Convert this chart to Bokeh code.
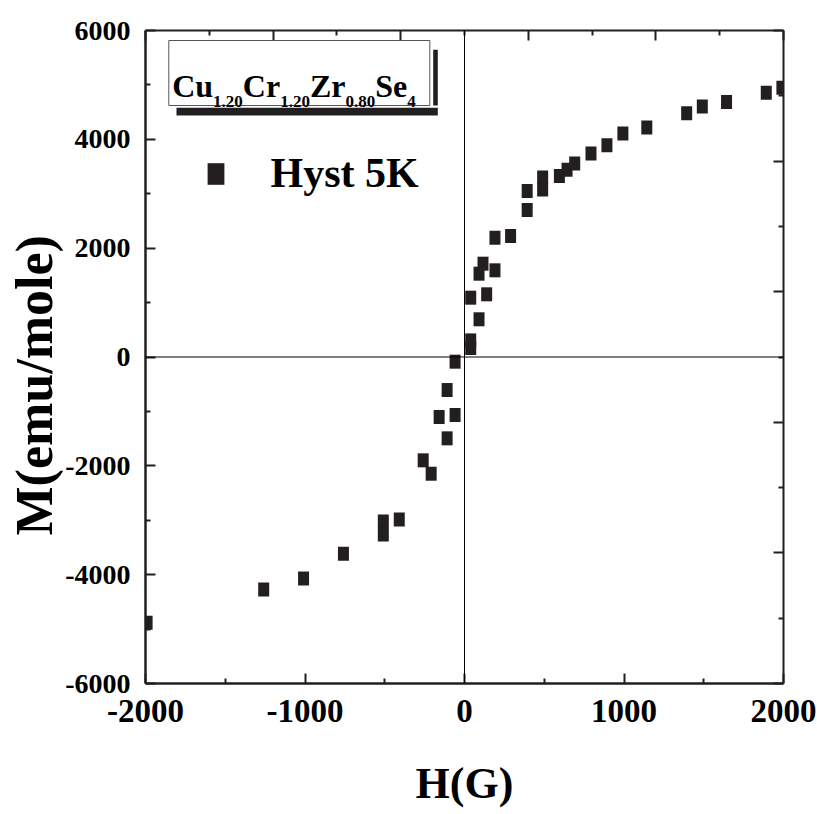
from bokeh.plotting import figure
from bokeh.models import (LinearAxis, FixedTicker, Span, BoxAnnotation, Label, Title,
                          Range1d, Legend, LegendItem, ColumnDataSource)
from bokeh.embed import file_html
from bokeh.resources import INLINE

# ---- data ----
H_field = [1990, 1892, 1643, 1491, 1393, 1143, 993, 893, 793, 691, 643, 595,
           490, 490, 393, 393, 289, 191, 191, 116, 91, 139, 39, 91, 39, 39,
           -59, -109, -159, -59, -109, -259, -209, -409, -509, -509, -759,
           -1009, -1259, -1990]
M_moment = [4950, 4858, 4688, 4602, 4478, 4216, 4105, 3891, 3738, 3554, 3443, 3327,
            3300, 3080, 3050, 2700, 2224, 2193, 1593, 1715, 1531, 1152, 1090, 693, 305, 165,
            -86, -607, -1103, -1066, -1495, -1899, -2145, -2984, -3024, -3263, -3615,
            -4069, -4271, -4884]

x_major = [-2000, -1000, 0, 1000, 2000]
x_minor = [-1500, -500, 500, 1500]
x_labels = ["-2000", "-1000", "0", "1000", "2000"]
y_major = [-6000, -4000, -2000, 0, 2000, 4000, 6000]
y_minor = [-5000, -3000, -1000, 1000, 3000, 5000]
y_labels = ["-6000", "-4000", "-2000", "0", "2000", "4000", "6000"]
top_major = [-2000, -1200, -400, 400, 1200, 2000]
top_minor = [-1600, -800, 0, 800, 1600]
right_major = [-6000, -3600, -1200, 1200, 3600, 6000]
right_minor = [-4800, -2400, 0, 2400, 4800]

x_title = "H(G)"
y_title = "M(emu/mole)"
series_label = "Hyst 5K"
formula_parts = [("Cu", "1.20"), ("Cr", "1.20"), ("Zr", "0.80"), ("Se", "4")]

FONT = "Liberation Serif"
INK = "#231f20"

X0, X1 = -2000, 2000
Y0, Y1 = -6000, 6000
W, HGT = 817, 814
# frame position in window pixels (for placing annotations)
FL, FR, FT, FB = 145, 783, 30, 683


def hx(px):
    return X0 + (px - FL) / (FR - FL) * (X1 - X0)


def vy(py):
    return Y0 + (FB - py) / (FB - FT) * (Y1 - Y0)


p = figure(width=W, height=HGT, x_range=Range1d(X0, X1), y_range=Range1d(Y0, Y1),
           output_backend="svg", toolbar_location=None,
           min_border_left=FL, min_border_right=W - FR, min_border_top=FT,
           min_border_bottom=HGT - FB)
p.grid.visible = False
p.outline_line_color = None
p.background_fill_color = "white"
p.border_fill_color = "white"

xa = p.xaxis[0]
xa.ticker = FixedTicker(ticks=x_major, minor_ticks=x_minor)
xa.major_label_overrides = dict(zip(x_major, x_labels))
ya = p.yaxis[0]
ya.ticker = FixedTicker(ticks=y_major, minor_ticks=y_minor)
ya.major_label_overrides = dict(zip(y_major, y_labels))

for ax in (xa, ya):
    ax.major_tick_in = 10
    ax.major_tick_out = 0
    ax.minor_tick_in = 5
    ax.minor_tick_out = 0
    ax.axis_line_width = 2.5
    ax.major_tick_line_width = 2
    ax.minor_tick_line_width = 2
    ax.axis_line_color = INK
    ax.major_tick_line_color = INK
    ax.minor_tick_line_color = INK
    ax.major_label_text_font = FONT
    ax.major_label_text_font_style = "bold"
    ax.major_label_text_color = "black"
    ax.axis_label_text_font = FONT
    ax.axis_label_text_font_style = "bold"
    ax.axis_label_text_color = "black"

xa.major_label_text_font_size = "33px"
xa.major_label_standoff = 16
xa.axis_label = x_title
xa.axis_label_text_font_size = "44px"
xa.axis_label_standoff = 34

ya.major_label_text_font_size = "28px"
ya.major_label_standoff = 15

top_axis = LinearAxis(ticker=FixedTicker(ticks=top_major, minor_ticks=top_minor))
top_axis.major_label_overrides = {t: "" for t in top_major}
right_axis = LinearAxis(ticker=FixedTicker(ticks=right_major, minor_ticks=right_minor))
right_axis.major_label_overrides = {t: "" for t in right_major}
for ax in (top_axis, right_axis):
    ax.major_tick_in = 10
    ax.major_tick_out = 0
    ax.minor_tick_in = 5
    ax.minor_tick_out = 0
    ax.axis_line_width = 2
    ax.major_tick_line_width = 2
    ax.minor_tick_line_width = 2
    ax.axis_line_color = INK
    ax.major_tick_line_color = INK
    ax.minor_tick_line_color = INK
    ax.major_label_standoff = 0
p.add_layout(top_axis, "above")
p.add_layout(right_axis, "right")

# y axis title in the left border, placed off-centre as in the reference
p.add_layout(Title(text=y_title, align="left", offset=148, vertical_align="bottom",
                   standoff=0, text_font=FONT, text_font_style="bold",
                   text_font_size="52px", text_color="black"), "left")

# zero lines
p.add_layout(Span(location=0, dimension="height", line_color="black", line_width=1))
p.add_layout(Span(location=0, dimension="width", line_color="black", line_width=1))

src = ColumnDataSource(dict(H=H_field, M=M_moment))
r = p.rect(x="H", y="M", width=11, height=14, width_units="screen",
           height_units="screen", fill_color=INK, line_color=None, source=src)

# formula box with shadow
p.add_layout(BoxAnnotation(left=hx(176), right=hx(437.3), top=vy(107.3), bottom=vy(115),
                           fill_color=INK, fill_alpha=1, line_color=None))
p.add_layout(BoxAnnotation(left=hx(432.7), right=hx(437.3), top=vy(49.3), bottom=vy(105),
                           fill_color=INK, fill_alpha=1, line_color=None))
p.add_layout(BoxAnnotation(left=hx(168.3), right=hx(429.3), top=vy(40), bottom=vy(105),
                           fill_color="white", fill_alpha=1, line_color="#555555",
                           line_width=1, line_alpha=1))

MAIN_SIZE, SUB_SIZE = 32, 17
widths = {"C": 0.722, "u": 0.556, "r": 0.444, "Z": 0.667, "S": 0.556, "e": 0.444,
          "0": 0.5, "1": 0.5, "2": 0.5, "4": 0.5, "8": 0.5, ".": 0.25}
cur = 171.7
for main, sub in formula_parts:
    p.add_layout(Label(x=hx(cur), y=vy(85), text=main, text_font=FONT,
                       text_font_style="bold", text_font_size=f"{MAIN_SIZE}px",
                       text_color="black", text_baseline="alphabetic"))
    cur += sum(widths[c] for c in main) * MAIN_SIZE
    p.add_layout(Label(x=hx(cur), y=vy(101), text=sub, text_font=FONT,
                       text_font_style="bold", text_font_size=f"{SUB_SIZE}px",
                       text_color="black", text_baseline="alphabetic"))
    cur += sum(widths[c] for c in sub) * SUB_SIZE

legend = Legend(items=[LegendItem(label=series_label, renderers=[r])],
                location=(59.5, 486), glyph_width=21, glyph_height=27,
                label_text_font=FONT, label_text_font_style="bold",
                label_text_font_size="42px", label_text_color="black",
                label_standoff=45, border_line_color=None, background_fill_alpha=0,
                padding=0, margin=0)
p.add_layout(legend)

open("out.html", "w").write(file_html(p, INLINE))
